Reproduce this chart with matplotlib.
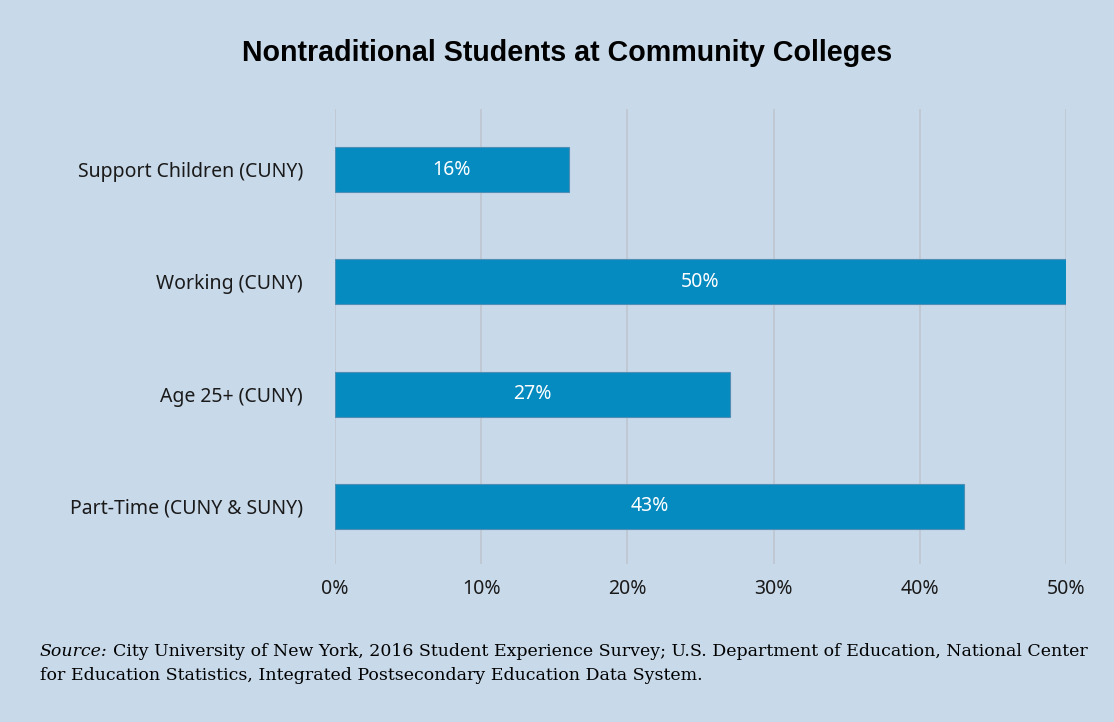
import matplotlib.pyplot as plt
from matplotlib.ticker import PercentFormatter

categories = ["Part-Time (CUNY & SUNY)", "Age 25+ (CUNY)", "Working (CUNY)", "Support Children (CUNY)"]
values = [43, 27, 50, 16]
xticks = [0, 10, 20, 30, 40, 50]

bg = "#c8d9ea"
bar_color = "#068bc1"

fig = plt.figure(figsize=(11.14, 7.22), dpi=100, facecolor=bg)
ax = fig.add_axes([335/1114, 1 - 564/722, (1066 - 335)/1114, (564 - 109)/722])
ax.set_facecolor(bg)

ypos = range(len(categories))
ax.barh(ypos, values, height=0.4, color=bar_color, edgecolor="#4f8fb5", linewidth=0.8, zorder=3)
for y, v in zip(ypos, values):
    ax.text(v / 2, y, f"{v}%", ha="center", va="center", color="white",
            fontsize=14, family="Noto Sans", zorder=4)

ax.set_xlim(0, 50)
ax.set_ylim(-0.512, 3.539)
ax.set_xticks(xticks)
ax.xaxis.set_major_formatter(PercentFormatter(decimals=0))
ax.set_yticks(list(ypos))
ax.set_yticklabels(categories)
ax.grid(axis="x", color="#bfc6cf", linewidth=1.2, zorder=0)
ax.tick_params(length=0, labelsize=14)
ax.tick_params(axis="x", pad=11)
ax.tick_params(axis="y", pad=23)
for lab in ax.get_xticklabels() + ax.get_yticklabels():
    lab.set_family("Noto Sans")
    lab.set_color("#1a1a1a")
for s in ax.spines.values():
    s.set_visible(False)

fig.text(567/1114, 1 - 53/722, "Nontraditional Students at Community Colleges",
         ha="center", va="center", fontsize=20.6, fontweight="bold",
         family=["Liberation Sans", "DejaVu Sans"])

src = fig.text(40/1114, 1 - 656/722, "Source:", ha="left", va="baseline", fontsize=12.5,
               style="italic", family="DejaVu Serif")
fig.add_artist(plt.Annotation(
    "City University of New York, 2016 Student Experience Survey; U.S. Department of Education, National Center",
    xy=(1, 0), xycoords=src, xytext=(4, 0), textcoords="offset points",
    ha="left", va="bottom", fontsize=12.5, family="DejaVu Serif"))
fig.text(40/1114, 1 - 680/722,
         "for Education Statistics, Integrated Postsecondary Education Data System.",
         ha="left", va="baseline", fontsize=12.5, family="DejaVu Serif")

fig.savefig("out.png", dpi=100, facecolor=bg)
